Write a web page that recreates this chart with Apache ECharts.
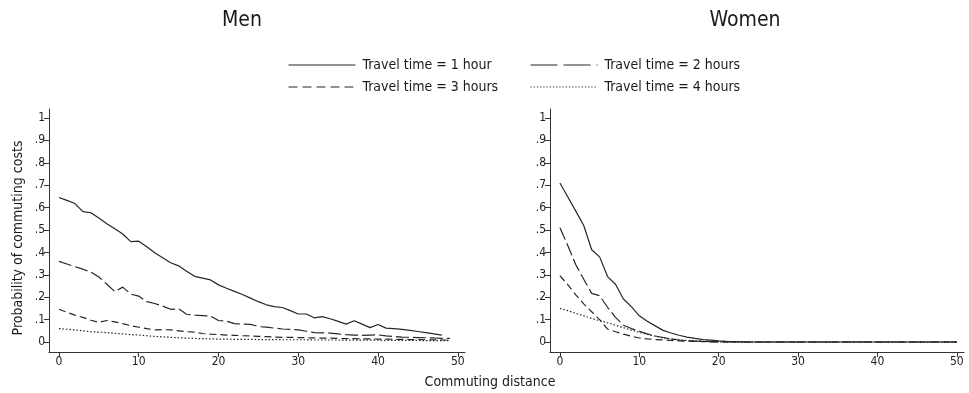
<!DOCTYPE html>
<html>
<head>
<meta charset="utf-8">
<script src="https://cdn.jsdelivr.net/npm/echarts@6/dist/echarts.min.js"></script>
<style>
  html, body { margin: 0; padding: 0; background: #ffffff; }
  #chart { width: 969px; height: 393px; }
</style>
</head>
<body>
<div id="chart"></div>
<script>
// Commuting distance (x) shared by every curve
const distance = [0,1,2,3,4,5,6,7,8,9,10,11,12,13,14,15,16,17,18,19,20,21,22,23,24,25,
  26,27,28,29,30,31,32,33,34,35,36,37,38,39,40,41,42,43,44,45,46,47,48,49,50];

// Men: probability of commuting costs by travel time
const men1h = [0.645,0.632,0.618,0.582,0.577,0.553,0.528,0.505,0.482,0.448,0.450,0.425,0.398,0.376,0.354,0.340,
  0.316,0.293,0.285,0.277,0.255,0.240,0.226,0.212,0.196,0.180,0.166,0.158,0.154,0.140,0.125,0.125,0.108,0.113,
  0.104,0.092,0.080,0.095,0.080,0.064,0.078,0.062,0.060,0.056,0.052,0.047,0.042,0.036,0.031];
const men2h = [0.360,0.348,0.336,0.325,0.312,0.290,0.258,0.225,0.245,0.214,0.205,0.180,0.172,0.160,0.146,0.148,
  0.124,0.120,0.118,0.116,0.096,0.093,0.082,0.080,0.079,0.069,0.066,0.062,0.058,0.056,0.054,0.048,0.042,0.041,
  0.040,0.036,0.033,0.031,0.030,0.031,0.032,0.027,0.025,0.022,0.021,0.020,0.019,0.018,0.016,0.016];
const men3h = [0.146,0.133,0.120,0.110,0.097,0.088,0.096,0.090,0.082,0.073,0.066,0.060,0.054,0.055,0.054,0.050,
  0.046,0.044,0.038,0.035,0.033,0.031,0.030,0.028,0.027,0.025,0.024,0.022,0.021,0.021,0.020,0.019,0.018,0.017,
  0.017,0.016,0.015,0.015,0.014,0.014,0.013,0.013,0.012,0.012,0.011,0.011,0.010,0.010,0.009,0.009];
const men4h = [0.060,0.057,0.054,0.050,0.046,0.044,0.042,0.039,0.036,0.033,0.031,0.028,0.025,0.023,0.021,0.019,
  0.017,0.016,0.015,0.014,0.013,0.013,0.012,0.012,0.012,0.011,0.011,0.011,0.010,0.010,0.010,0.010,0.009,0.009,
  0.009,0.009,0.008,0.008,0.008,0.008,0.008,0.007,0.007,0.007,0.007,0.007,0.006,0.006,0.006,0.006];

// Women: probability of commuting costs by travel time
const women1h = [0.710,0.647,0.584,0.520,0.412,0.380,0.292,0.258,0.192,0.158,0.117,0.093,0.072,0.052,0.040,0.030,
  0.022,0.016,0.011,0.008,0.005,0.003,0.002,0.001,0,0,0,0,0,0,0,0,0,0,0,0,0,0,0,0,0,0,0,0,0,0,0,0,0,0,0];
const women2h = [0.510,0.430,0.345,0.280,0.217,0.207,0.155,0.110,0.075,0.060,0.048,0.036,0.027,0.020,0.013,0.009,
  0.006,0.004,0.003,0.002,0.001,0,0,0,0,0,0,0,0,0,0,0,0,0,0,0,0,0,0,0,0,0,0,0,0,0,0,0,0,0,0];
const women3h = [0.296,0.255,0.210,0.170,0.135,0.100,0.058,0.046,0.035,0.026,0.018,0.014,0.011,0.009,0.007,0.005,
  0.004,0.003,0.002,0.001,0,0,0,0,0,0,0,0,0,0,0,0,0,0,0,0,0,0,0,0,0,0,0,0,0,0,0,0,0,0,0];
const women4h = [0.150,0.140,0.128,0.117,0.105,0.095,0.086,0.075,0.064,0.053,0.043,0.034,0.026,0.019,0.014,0.010,
  0.007,0.005,0.003,0.002,0.001,0,0,0,0,0,0,0,0,0,0,0,0,0,0,0,0,0,0,0,0,0,0,0,0,0,0,0,0,0,0];

const seriesNames = ['Travel time = 1 hour', 'Travel time = 2 hours', 'Travel time = 3 hours', 'Travel time = 4 hours'];
const panelTitles = ['Men', 'Women'];
const xTicks = [0, 10, 20, 30, 40, 50];
const yTicks = [0, 0.1, 0.2, 0.3, 0.4, 0.5, 0.6, 0.7, 0.8, 0.9, 1];
const yAxisTitle = 'Probability of commuting costs';
const xAxisTitle = 'Commuting distance';

const FONT = '"Liberation Sans Narrow", "DejaVu Sans Condensed", "Roboto Condensed", "Liberation Sans", sans-serif';
const INK = '#262626';
const dashes = ['solid', [13, 4], [7, 4], [1.5, 2]];

function pairs(values) {
  return values.map((v, i) => [distance[i], v]);
}

function yLabel(v) {
  const r = Math.round(v * 10) / 10;
  if (r === 0) return '0';
  if (r === 1) return '1';
  return r.toFixed(1).replace(/^0/, '');
}

function makeX(gridIndex) {
  return {
    type: 'value', gridIndex, min: -1.25, max: 50.9,
    axisLine: { show: true, onZero: false, lineStyle: { color: '#333', width: 1 } },
    axisTick: { show: true, length: 5, customValues: xTicks, lineStyle: { color: '#333' } },
    axisLabel: { customValues: xTicks, color: '#222', fontFamily: FONT, fontSize: 12, margin: 4 },
    splitLine: { show: false }
  };
}
function makeY(gridIndex) {
  return {
    type: 'value', gridIndex, min: -0.0446, max: 1.040,
    axisLine: { show: true, onZero: false, lineStyle: { color: '#333', width: 1 } },
    axisTick: { show: true, length: 5, customValues: yTicks, lineStyle: { color: '#333' } },
    axisLabel: { customValues: yTicks, formatter: yLabel, color: '#222', fontFamily: FONT, fontSize: 12, margin: 4 },
    splitLine: { show: false }
  };
}

const groups = [
  [men1h, men2h, men3h, men4h],
  [women1h, women2h, women3h, women4h]
];
const series = [];
groups.forEach((g, gi) => {
  g.forEach((vals, si) => {
    series.push({
      name: seriesNames[si], type: 'line', xAxisIndex: gi, yAxisIndex: gi,
      data: pairs(vals), symbol: 'none', showSymbol: false, silent: true, animation: false,
      color: INK,
      itemStyle: { color: INK },
      lineStyle: { color: INK, width: 1.2, type: dashes[si] }
    });
  });
});

const legendPos = [
  { left: 283, top: 53 }, { left: 525, top: 53 },
  { left: 283, top: 75 }, { left: 525, top: 75 }
];
const legendDash = ['solid', [27, 6], [9, 5], [1.2, 2]];
const legends = seriesNames.map((n, i) => ({
  data: [n], left: legendPos[i].left, top: legendPos[i].top,
  itemWidth: 67, itemHeight: 14, selectedMode: false,
  itemStyle: { opacity: 0 },
  lineStyle: { type: legendDash[i], width: 1, color: INK },
  textStyle: { fontFamily: FONT, fontSize: 14, color: '#1a1a1a', padding: [0, 0, 0, 2] }
}));

const chart = echarts.init(document.getElementById('chart'), null, { renderer: 'canvas' });
chart.setOption({
  backgroundColor: '#ffffff',
  animation: false,
  title: [
    { text: panelTitles[0], left: 237, top: 5, textAlign: 'center',
      textStyle: { fontFamily: FONT, fontSize: 21, fontWeight: 'normal', color: '#1a1a1a' } },
    { text: panelTitles[1], left: 740, top: 5, textAlign: 'center',
      textStyle: { fontFamily: FONT, fontSize: 21, fontWeight: 'normal', color: '#1a1a1a' } }
  ],
  legend: legends,
  grid: [
    { left: 49, top: 109, width: 416, height: 243 },
    { left: 550, top: 109, width: 414, height: 243 }
  ],
  xAxis: [makeX(0), makeX(1)],
  yAxis: [makeY(0), makeY(1)],
  series,
  graphic: [
    { type: 'text', x: 18, y: 238, rotation: Math.PI / 2,
      style: { text: yAxisTitle, fontFamily: FONT, fontSize: 14, fill: '#1a1a1a', align: 'center', verticalAlign: 'middle' } },
    { type: 'text', x: 490, y: 382,
      style: { text: xAxisTitle, fontFamily: FONT, fontSize: 14, fill: '#1a1a1a', align: 'center', verticalAlign: 'middle' } }
  ]
});
</script>
</body>
</html>
